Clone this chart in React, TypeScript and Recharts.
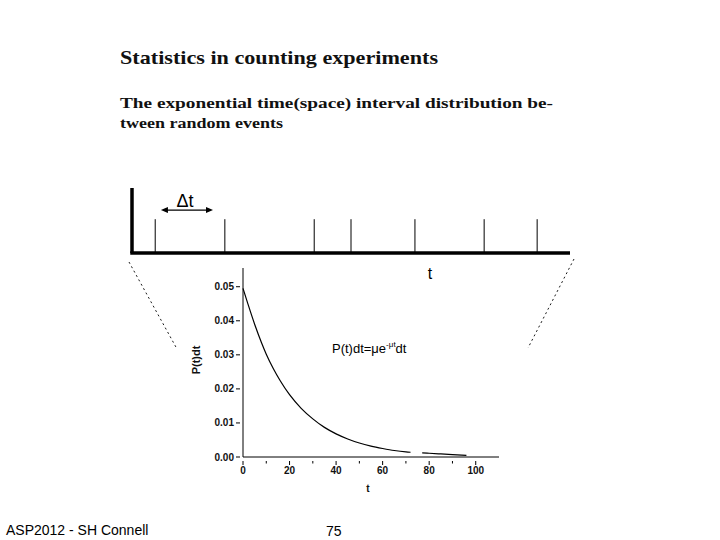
import React from 'react';
import { LineChart, Line, XAxis, YAxis, ReferenceLine } from 'recharts';

// Exponential interval distribution
const decayT = [0, 2, 5, 8, 10, 13, 16, 20, 25, 30, 35, 40, 45, 50, 55, 60, 65, 70, 72, 74, 77, 80, 85, 90, 96];
const decayP: (number | null)[] = [0.0495, 0.0452, 0.039, 0.0335, 0.0302, 0.026, 0.0224, 0.0183, 0.0143, 0.0112, 0.0087, 0.0068, 0.0053, 0.0041, 0.0032, 0.0025, 0.0019, 0.0015, 0.0014, null, 0.0012, 0.0011, 0.0009, 0.0007, 0.0005];
const xTicks = [0, 10, 20, 30, 40, 50, 60, 70, 80, 90, 100];
const yTicks = [0, 0.01, 0.02, 0.03, 0.04, 0.05];

// Random events on the time line (arbitrary units, 0..100)
const eventTimes = [5.3, 21.2, 41.6, 50.0, 64.6, 80.4, 92.5];
const deltaSpan = [6.6, 18.5];

const decayData = decayT.map((t, i) => ({ t, p: decayP[i] }));
const eventData = eventTimes.map((t) => ({ t, h: 0.52 }));

const tickFont = 'Liberation Sans, Arial, sans-serif';

const XTick = (props: any) => {
  const { x, y, payload } = props;
  const major = payload.value % 20 === 0;
  return (
    <g>
      <line x1={x} y1={y - 4} x2={x} y2={y - 4 + (major ? 4 : 2.5)} stroke="#000" strokeWidth={1} />
      {major && (
        <text x={x} y={y + 9} textAnchor="middle" fontSize={10} fontWeight="bold" fontFamily={tickFont} fill="#111">
          {payload.value}
        </text>
      )}
    </g>
  );
};

const YTick = (props: any) => {
  const { x, y, payload } = props;
  return (
    <g>
      <line x1={x + 1} y1={y} x2={x + 5} y2={y} stroke="#000" strokeWidth={1} />
      <text x={x - 1} y={y + 3.5} textAnchor="end" fontSize={10} fontWeight="bold" fontFamily={tickFont} fill="#111">
        {payload.value.toFixed(2)}
      </text>
    </g>
  );
};

const Arrow = (props: any) => {
  const { x1, y1, x2, y2 } = props;
  return (
    <g>
      <line x1={x1 + 4} y1={y1} x2={x2 - 4} y2={y2} stroke="#000" strokeWidth={1.3} />
      <polygon points={`${x1},${y1} ${x1 + 7},${y1 - 3} ${x1 + 7},${y1 + 3}`} fill="#000" />
      <polygon points={`${x2},${y2} ${x2 - 7},${y2 - 3} ${x2 - 7},${y2 + 3}`} fill="#000" />
    </g>
  );
};

export default function App() {
  return (
    <div style={{ position: 'absolute', left: 0, top: 0, width: 720, height: 540, background: '#fff' }}>
      {/* Time line with random events */}
      <div style={{ position: 'absolute', left: 0, top: 0 }}>
        <LineChart width={720} height={540} data={eventData} margin={{ top: 188, left: 132, right: 150, bottom: 287 }}>
          <XAxis dataKey="t" type="number" domain={[0, 100]} hide />
          <YAxis type="number" domain={[0, 1]} hide />
          <ReferenceLine segment={[{ x: -0.4, y: 0 }, { x: 100, y: 0 }]} stroke="#000" strokeWidth={3.5} ifOverflow="visible" />
          <ReferenceLine segment={[{ x: 0, y: 0 }, { x: 0, y: 1 }]} stroke="#000" strokeWidth={3.5} ifOverflow="visible" />
          {eventTimes.map((t) => (
            <ReferenceLine key={t} segment={[{ x: t, y: 0 }, { x: t, y: 0.52 }]} stroke="#000" strokeWidth={1} ifOverflow="visible" />
          ))}
          <ReferenceLine
            segment={[{ x: deltaSpan[0], y: 0.66 }, { x: deltaSpan[1], y: 0.66 }]}
            shape={Arrow}
            ifOverflow="visible"
          />
          <Line dataKey="h" stroke="none" dot={false} isAnimationActive={false} />
        </LineChart>
      </div>

      {/* Decay plot */}
      <div style={{ position: 'absolute', left: 0, top: 0 }}>
        <LineChart width={720} height={540} data={decayData} margin={{ top: 268, right: 221, bottom: 53, left: 193 }}>
          <XAxis
            dataKey="t"
            type="number"
            domain={[0, 110]}
            ticks={xTicks}
            interval={0}
            tick={<XTick />}
            tickLine={false}
            axisLine={{ stroke: '#000', strokeWidth: 1 }}
            height={30}
          />
          <YAxis
            type="number"
            domain={[0, 0.0555]}
            ticks={yTicks}
            interval={0}
            tick={<YTick />}
            tickLine={false}
            axisLine={{ stroke: '#000', strokeWidth: 1 }}
            width={50}
            allowDataOverflow
          />
          <Line
            type="monotone"
            dataKey="p"
            stroke="#000"
            strokeWidth={1.2}
            dot={false}
            connectNulls={false}
            isAnimationActive={false}
          />
        </LineChart>
      </div>

      {/* Text and decorations */}
      <svg width={720} height={540} style={{ position: 'absolute', left: 0, top: 0, pointerEvents: 'none' }}>
        <text x={120} y={64} fontSize={19} fontWeight="bold" fontFamily="Liberation Serif, serif" textLength={318} lengthAdjust="spacingAndGlyphs" fill="#111">
          Statistics in counting experiments
        </text>
        <text x={120} y={108} fontSize={14.5} fontWeight="bold" fontFamily="Liberation Serif, serif" textLength={433} lengthAdjust="spacingAndGlyphs" fill="#111">
          The exponential time(space) interval distribution be-
        </text>
        <text x={120} y={128} fontSize={14.5} fontWeight="bold" fontFamily="Liberation Serif, serif" textLength={163} lengthAdjust="spacingAndGlyphs" fill="#111">
          tween random events
        </text>

        <text x={185} y={207} textAnchor="middle" fontSize={18} fontFamily={tickFont} fill="#000">Δt</text>
        <text x={430} y={279} textAnchor="middle" fontSize={16} fontFamily={tickFont} fill="#000">t</text>

        <line x1={129} y1={262} x2={177} y2={349} stroke="#000" strokeWidth={0.9} strokeDasharray="2 3" />
        <line x1={574} y1={259} x2={528} y2={348} stroke="#000" strokeWidth={0.9} strokeDasharray="2 3" />

        <text transform="translate(200 360) rotate(-90)" textAnchor="middle" fontSize={11} fontWeight="bold" fontFamily={tickFont} fill="#111">
          P(t)dt
        </text>
        <text x={368} y={492} textAnchor="middle" fontSize={10} fontWeight="bold" fontFamily={tickFont} fill="#111">t</text>

        <text x={332} y={353} fontSize={13} fontFamily={tickFont} fill="#000">
          P(t)dt=μe<tspan dy={-6} fontSize={8}>-μt</tspan><tspan dy={6}>dt</tspan>
        </text>

        <text x={6} y={535} fontSize={14} fontFamily={tickFont} fill="#000">ASP2012 - SH Connell</text>
        <text x={326} y={536} fontSize={14} fontFamily={tickFont} fill="#000">75</text>
      </svg>
    </div>
  );
}
